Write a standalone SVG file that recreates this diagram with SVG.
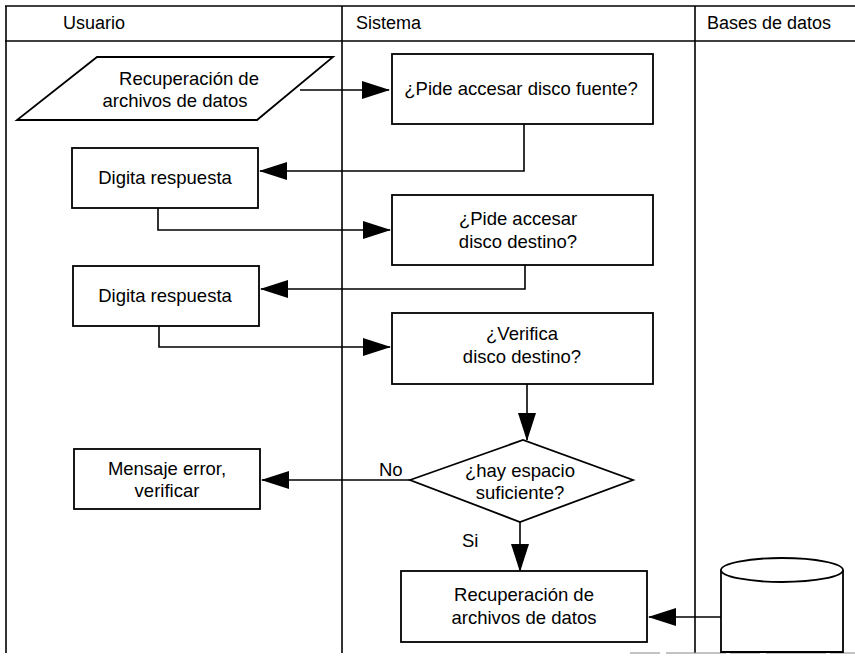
<svg xmlns="http://www.w3.org/2000/svg" width="855" height="663" viewBox="0 0 855 663">
  <defs>
    <marker id="arrow" markerUnits="userSpaceOnUse" markerWidth="28" markerHeight="18" refX="27" refY="9" orient="auto">
      <path d="M0,0 L28,9 L0,18 z" fill="#000"/>
    </marker>
  </defs>
  <style>
    .lane { fill: none; stroke: #000; stroke-width: 1.6; }
    .node { fill: #fff; stroke: #000; stroke-width: 1.8; }
    .edge { fill: none; stroke: #000; stroke-width: 1.6; marker-end: url(#arrow); }
    text { font-family: "Liberation Sans", Arial, sans-serif; font-size: 18.5px; fill: #000; }
    .hdr { font-size: 18px; }
    .mid { text-anchor: middle; }
  </style>

  <rect width="855" height="663" fill="#fff"/>

  <!-- swimlane frame -->
  <g id="lanes">
    <line class="lane" x1="5" y1="6" x2="855" y2="6"/>
    <line class="lane" x1="5" y1="41" x2="855" y2="41"/>
    <line class="lane" x1="6" y1="6" x2="6" y2="653"/>
    <line class="lane" x1="342" y1="6" x2="342" y2="653"/>
    <line class="lane" x1="695" y1="6" x2="695" y2="653"/>
    <line x1="630" y1="653" x2="855" y2="653" stroke="#888" stroke-width="1.2" stroke-dasharray="30 6 60 4"/>
    <text class="hdr" x="63" y="29">Usuario</text>
    <text class="hdr" x="356" y="29">Sistema</text>
    <text class="hdr" x="707" y="29">Bases de datos</text>
  </g>

  <!-- connectors -->
  <g id="connectors">
    <path class="edge" d="M300,90 L389,90"/>
    <path class="edge" d="M524,124 L524,171 L260,171"/>
    <path class="edge" d="M158,208 L158,230 L390,230"/>
    <path class="edge" d="M525,265 L525,289 L261,289"/>
    <path class="edge" d="M159,326 L159,347 L390,347"/>
    <path class="edge" d="M527,384 L527,440"/>
    <path class="edge" d="M410,480 L262,480"/>
    <path class="edge" d="M520,522 L520,571"/>
    <path class="edge" d="M721,617 L649,617"/>
    <text x="379" y="476">No</text>
    <text x="462" y="547">Si</text>
  </g>

  <g id="input-recuperacion">
    <polygon class="node" points="97,57 333,57 257,120 17,120"/>
    <text class="mid" x="189" y="85">Recuperación de</text>
    <text class="mid" x="175" y="107">archivos de datos</text>
  </g>

  <g id="pide-fuente">
    <rect class="node" x="392" y="54" width="261" height="70"/>
    <text class="mid" x="521" y="95">¿Pide accesar disco fuente?</text>
  </g>

  <g id="digita-1">
    <rect class="node" x="72" y="148" width="186" height="60"/>
    <text class="mid" x="165" y="184">Digita respuesta</text>
  </g>

  <g id="pide-destino">
    <rect class="node" x="392" y="195" width="261" height="70"/>
    <text class="mid" x="518" y="225">¿Pide accesar</text>
    <text class="mid" x="518" y="248">disco destino?</text>
  </g>

  <g id="digita-2">
    <rect class="node" x="73" y="266" width="186" height="60"/>
    <text class="mid" x="165" y="302">Digita respuesta</text>
  </g>

  <g id="verifica-destino">
    <rect class="node" x="392" y="313" width="261" height="71"/>
    <text class="mid" x="522" y="340">¿Verifica</text>
    <text class="mid" x="522" y="363">disco destino?</text>
  </g>

  <g id="decision-espacio">
    <polygon class="node" points="410,480 523,440 633,480 520,522"/>
    <text class="mid" x="520" y="477">¿hay espacio</text>
    <text class="mid" x="520" y="499">suficiente?</text>
  </g>

  <g id="mensaje-error">
    <rect class="node" x="74" y="449" width="186" height="60"/>
    <text class="mid" x="167" y="475">Mensaje error,</text>
    <text class="mid" x="167" y="497">verificar</text>
  </g>

  <g id="recuperacion-archivos">
    <rect class="node" x="401" y="571" width="246" height="71"/>
    <text class="mid" x="524" y="601">Recuperación de</text>
    <text class="mid" x="524" y="624">archivos de datos</text>
  </g>

  <g id="base-datos">
    <path class="node" d="M721,570 L721,652 L843,652 L843,570"/>
    <ellipse class="node" cx="782" cy="570" rx="61" ry="12"/>
  </g>
</svg>
